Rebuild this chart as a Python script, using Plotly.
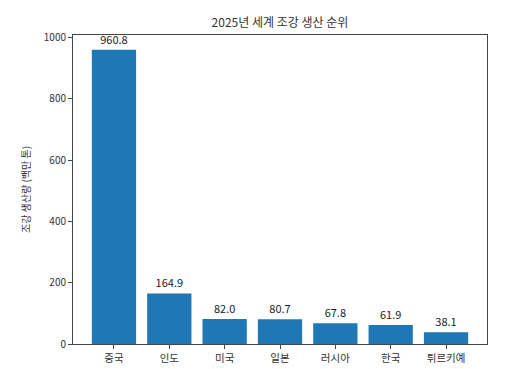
import plotly.graph_objects as go

countries = ["중국", "인도", "미국", "일본", "러시아", "한국", "튀르키예"]
production = [960.8, 164.9, 82.0, 80.7, 67.8, 61.9, 38.1]
y_ticks = [0, 200, 400, 600, 800, 1000]

FONT = "Noto Sans CJK KR, Noto Sans, sans-serif"

fig = go.Figure(go.Bar(
    x=list(range(len(countries))),
    y=production,
    width=0.8,
    marker=dict(color="#1f77b4", line=dict(width=0)),
    text=[f"{v:.1f}" for v in production],
    textposition="outside",
    textfont=dict(size=11, color="#222222", family=FONT),
    cliponaxis=False,
))

fig.update_layout(
    width=525, height=369,
    margin=dict(l=73, r=38, t=35, b=25),
    paper_bgcolor="white", plot_bgcolor="white",
    font=dict(family=FONT, size=10, color="#333333"),
    title=dict(text="2025년 세계 조강 생산 순위", x=0.5, xref="paper",
               y=1 - 23/369, yanchor="middle", font=dict(size=12, color="#333333")),
    showlegend=False,
    bargap=0.2,
    annotations=[dict(text="국가", x=0.5, xref="paper", y=-23/309, yref="paper",
                      xanchor="center", yanchor="top", showarrow=False,
                      font=dict(size=10, color="#333333"))],
)
fig.update_xaxes(
    range=[-0.74, 6.74],
    tickvals=list(range(len(countries))), ticktext=countries,
    showline=True, linecolor="#444444", linewidth=1, mirror=True,
    ticks="outside", ticklen=4, tickcolor="#444444",
    showgrid=False, zeroline=False,
    tickfont=dict(size=10.5, color="#333333"),
    automargin=False,
)
fig.update_yaxes(
    range=[0, 1008.84],
    tickvals=y_ticks,
    showline=True, linecolor="#444444", linewidth=1, mirror=True,
    ticks="outside", ticklen=4, tickcolor="#444444",
    showgrid=False, zeroline=False,
    tickfont=dict(size=10, color="#333333"),
    title=dict(text="조강 생산량 (백만 톤)", standoff=11, font=dict(size=10)),
    automargin=False,
)

fig.write_html("out.html", config={"displayModeBar": False},
               post_script="document.body.style.margin='0';document.body.style.overflow='hidden';")
